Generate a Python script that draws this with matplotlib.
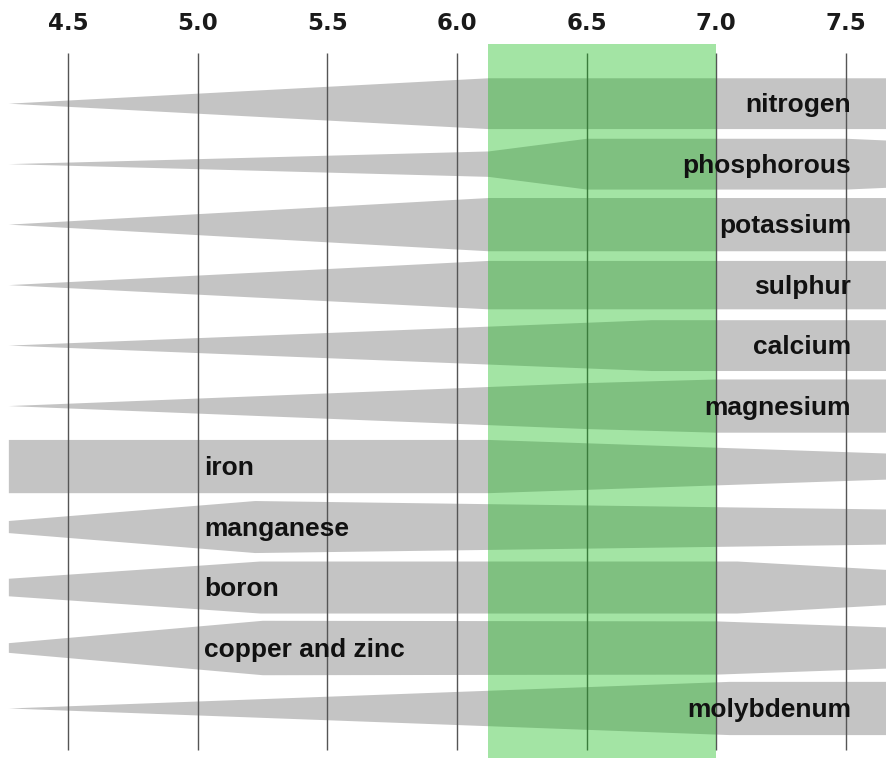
import matplotlib
matplotlib.use('Agg')
import matplotlib.pyplot as plt
import numpy as np

# nutrientes y su disponibilidad segun el pH (ancho medio de cada banda)
nutrients = ['nitrogen', 'phosphorous', 'potassium', 'sulphur', 'calcium',
             'magnesium', 'iron', 'manganese', 'boron', 'copper and zinc',
             'molybdenum']

ph_nitrogen = [4.27, 6.12, 7.66]
w_nitrogen = [0.0, 0.42, 0.42]
ph_phosphorous = [4.27, 6.12, 6.5, 7.5, 7.66]
w_phosphorous = [0.0, 0.21, 0.42, 0.42, 0.39]
ph_potassium = [4.27, 6.12, 7.66]
w_potassium = [0.0, 0.44, 0.44]
ph_sulphur = [4.27, 6.12, 7.66]
w_sulphur = [0.0, 0.40, 0.40]
ph_calcium = [4.27, 6.75, 7.66]
w_calcium = [0.0, 0.42, 0.42]
ph_magnesium = [4.27, 6.5, 7.0, 7.66]
w_magnesium = [0.0, 0.38, 0.44, 0.44]
ph_iron = [4.27, 6.12, 7.66]
w_iron = [0.44, 0.44, 0.215]
ph_manganese = [4.27, 5.22, 7.66]
w_manganese = [0.10, 0.43, 0.29]
ph_boron = [4.27, 5.24, 7.08, 7.66]
w_boron = [0.145, 0.43, 0.43, 0.29]
ph_copper = [4.27, 5.25, 7.0, 7.66]
w_copper = [0.08, 0.45, 0.44, 0.34]
ph_molybdenum = [4.27, 7.05, 7.66]
w_molybdenum = [0.0, 0.44, 0.44]

ph_list = [ph_nitrogen, ph_phosphorous, ph_potassium, ph_sulphur, ph_calcium,
           ph_magnesium, ph_iron, ph_manganese, ph_boron, ph_copper, ph_molybdenum]
w_list = [w_nitrogen, w_phosphorous, w_potassium, w_sulphur, w_calcium,
          w_magnesium, w_iron, w_manganese, w_boron, w_copper, w_molybdenum]

# etiqueta a la derecha (R) o a la izquierda (L)
label_side = ['R', 'R', 'R', 'R', 'R', 'R', 'L', 'L', 'L', 'L', 'R']

ticks = [4.5, 5.0, 5.5, 6.0, 6.5, 7.0, 7.5]
tick_labels = ['4.5', '5.0', '5.5', '6.0', '6.5', '7.0', '7.5']

# rango optimo
best_lo = 6.12
best_hi = 7.0

fig = plt.figure(figsize=(8.86, 7.58), dpi=100)
ax = fig.add_axes([0, 0, 1, 1])
ax.set_xlim(4.2378, 7.6546)
ax.set_ylim(10.827, -1.706)
ax.axis('off')

for i in range(len(nutrients)):
    x = np.array(ph_list[i])
    w = np.array(w_list[i])
    ax.fill_between(x, i - w, i + w, color='#c4c4c4', linewidth=0, zorder=1)

ax.vlines(ticks, -0.83, 10.69, color='#555555', linewidth=1, zorder=2)

ax.fill_between([best_lo, best_hi], -0.979, 10.9, color='#13ba16',
                alpha=0.39, linewidth=0, zorder=3)

for t, lab in zip(ticks, tick_labels):
    ax.text(t, -1.32, lab, ha='center', va='center', fontsize=16.5,
            fontweight='bold', color='#1a1a1a', family='DejaVu Sans', zorder=4)

fam = 'Liberation Sans'
for i, name in enumerate(nutrients):
    if label_side[i] == 'R':
        ax.text(7.52, i + 0.15, name, ha='right', va='baseline', fontsize=19,
                fontweight='bold', color='#111111', family=fam, zorder=4)
    else:
        ax.text(5.024, i + 0.15, name, ha='left', va='baseline', fontsize=19,
                fontweight='bold', color='#111111', family=fam, zorder=4)

plt.savefig('out.png', dpi=100)
